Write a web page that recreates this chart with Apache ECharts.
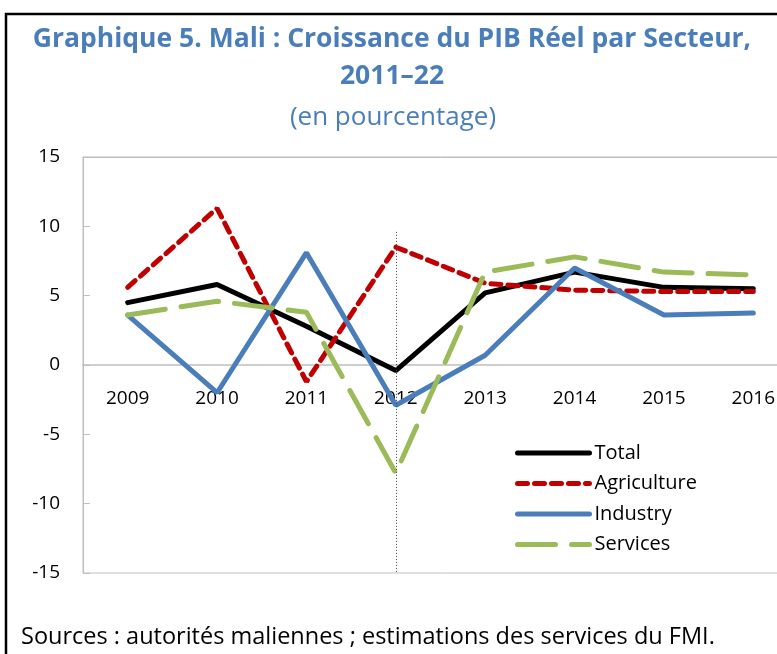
<!DOCTYPE html>
<html>
<head>
<meta charset="utf-8">
<script src="https://cdn.jsdelivr.net/npm/echarts@6/dist/echarts.min.js"></script>
<style>
  html, body { margin: 0; padding: 0; background: #fff; overflow: hidden; }
  #chart { width: 800px; height: 654px; }
</style>
</head>
<body>
<div id="chart"></div>
<script>
// données
var years = ['2009', '2010', '2011', '2012', '2013', '2014', '2015', '2016'];
var total = [4.5, 5.8, 2.8, -0.4, 5.2, 6.7, 5.6, 5.5];
var agriculture = [5.6, 11.3, -1.2, 8.5, 5.9, 5.4, 5.3, 5.3];
var industry = [3.6, -2.0, 8.1, -2.9, 0.7, 7.0, 3.6, 3.75];
var services = [3.6, 4.6, 3.8, -7.8, 6.7, 7.8, 6.7, 6.5];
var yTicks = [-15, -10, -5, 0, 5, 10, 15];

var font = '"Open Sans", "Noto Sans", sans-serif';
var blue = '#4A7EBB';

// le div fait 800px, la fenêtre 777px : le cadre et le graphique débordent à droite comme dans l'original
var chart = echarts.init(document.getElementById('chart'));

var gridTop = 157, gridBottom = 81, chartH = 654;
var plotH = chartH - gridTop - gridBottom;
var yMin = yTicks[0], yMax = yTicks[yTicks.length - 1];
// axe des x remonté sur la ligne du zéro
var zeroOffset = -plotH * (0 - yMin) / (yMax - yMin);

function lineSerie(name, data, color, dash) {
    return {
        name: name,
        type: 'line',
        data: data,
        symbol: 'none',
        lineStyle: { color: color, width: 5, type: dash || 'solid', cap: 'round' },
        itemStyle: { color: color },
        z: 3
    };
}

var series = [
    lineSerie('Total', total, '#000000'),
    lineSerie('Agriculture', agriculture, '#C00000', [10, 7]),
    lineSerie('Industry', industry, blue),
    lineSerie('Services', services, '#9BBB59', [38, 16])
];
// trait vertical pointillé à 2012
series[0].markLine = {
    symbol: 'none',
    silent: true,
    label: { show: false },
    lineStyle: { color: '#404040', width: 1, type: [1, 2] },
    data: [[{ coord: ['2012', 9.6] }, { coord: ['2012', -15] }]]
};

var option = {
    backgroundColor: '#fff',
    animation: false,
    graphic: [
        {
            type: 'text', x: 392, y: 21,
            style: {
                text: 'Graphique 5. Mali : Croissance du PIB Réel par Secteur,\n2011–22',
                font: 'bold 26.5px ' + font, fill: blue, align: 'center', lineHeight: 37
            }
        },
        {
            type: 'text', x: 393, y: 105,
            style: { text: '(en pourcentage)', font: '26px ' + font, fill: blue, align: 'center' }
        },
        {
            type: 'text', x: 21, y: 625,
            style: { text: 'Sources : autorités maliennes ; estimations des services du FMI.', font: '23.5px ' + font, fill: '#000' }
        },
        {
            type: 'rect',
            shape: { x: 6, y: 14, width: 820, height: 700 },
            style: { fill: null, stroke: '#000', lineWidth: 2.5 },
            z: 10
        }
    ],
    legend: {
        orient: 'vertical',
        left: 515, top: 443,
        padding: 0,
        itemWidth: 72, itemHeight: 20, itemGap: 10.5,
        itemStyle: { opacity: 0 },
        lineStyle: { width: 5 },
        textStyle: { fontFamily: font, fontSize: 20, color: '#000', padding: [0, 0, 0, 0] },
        data: ['Total', 'Agriculture', 'Industry', 'Services']
    },
    grid: {
        left: 83, top: gridTop, right: 2, bottom: gridBottom,
        show: true, borderColor: '#BFBFBF', borderWidth: 1
    },
    xAxis: [
        {
            type: 'category',
            data: years,
            offset: zeroOffset,
            axisLine: { onZero: false, lineStyle: { color: '#BFBFBF', width: 1.5 } },
            axisTick: { inside: true, length: 7, lineStyle: { color: '#BFBFBF' } },
            axisLabel: { margin: 24, fontFamily: font, fontSize: 19, color: '#000' }
        },
        {
            type: 'category',
            data: years,
            position: 'top',
            axisLine: { onZero: false, lineStyle: { color: '#BFBFBF' } },
            axisTick: { inside: true, length: 7, lineStyle: { color: '#BFBFBF' } },
            axisLabel: { show: false }
        }
    ],
    yAxis: {
        type: 'value',
        min: yMin, max: yMax, interval: 5,
        axisLine: { show: true, lineStyle: { color: '#BFBFBF' } },
        axisTick: { show: true, inside: true, length: 7, lineStyle: { color: '#BFBFBF' } },
        splitLine: { show: false },
        axisLabel: { margin: 23, fontFamily: font, fontSize: 19, color: '#000' }
    },
    series: series
};

chart.setOption(option);
</script>
</body>
</html>
